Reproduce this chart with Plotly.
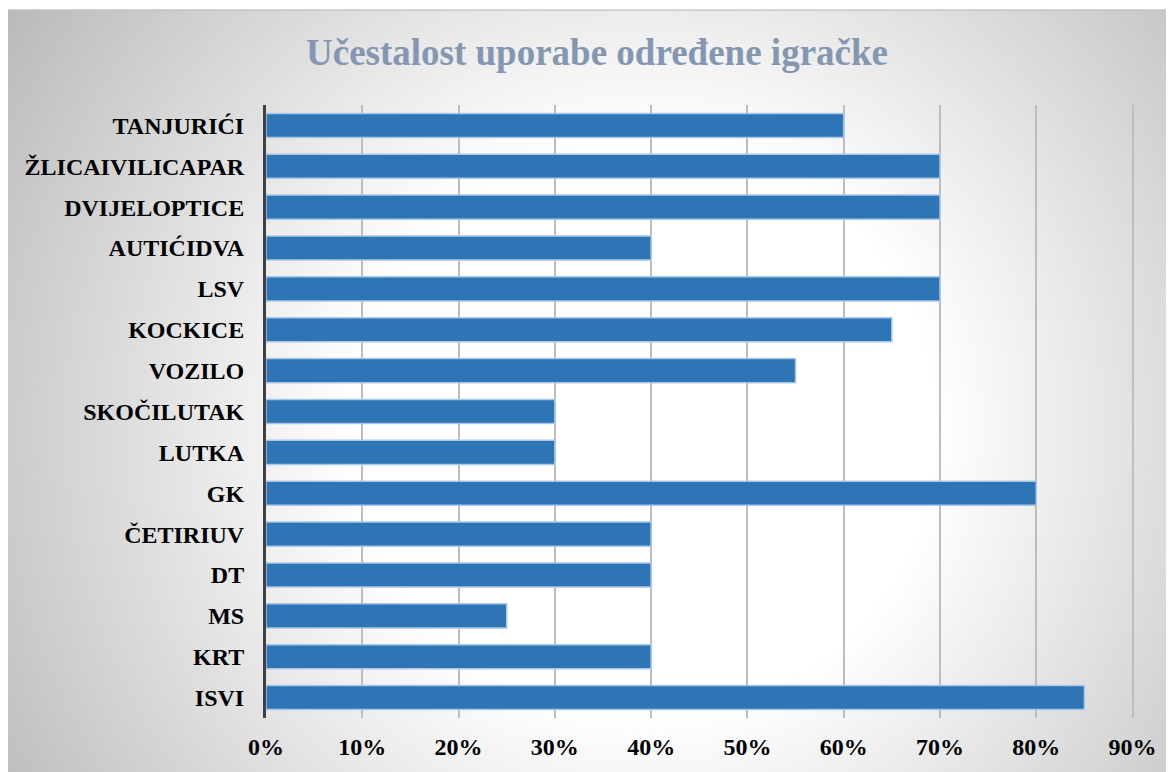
import plotly.graph_objects as go
import base64

categories = ["TANJURIĆI", "ŽLICAIVILICAPAR", "DVIJELOPTICE", "AUTIĆIDVA", "LSV",
              "KOCKICE", "VOZILO", "SKOČILUTAK", "LUTKA", "GK", "ČETIRIUV", "DT",
              "MS", "KRT", "ISVI"]
values = [0.60, 0.70, 0.70, 0.40, 0.70, 0.65, 0.55, 0.30, 0.30, 0.80, 0.40, 0.40,
          0.25, 0.40, 0.85]
x_ticks = [0, 0.1, 0.2, 0.3, 0.4, 0.5, 0.6, 0.7, 0.8, 0.9]
x_labels = ["0%", "10%", "20%", "30%", "40%", "50%", "60%", "70%", "80%", "90%"]

# the page body has an 8px margin, so the figure is offset by (8, 8)
W, H = 1166, 764
L, R, T, B = 258, 40, 97, 52
pw, ph = W - L - R, H - T - B

svg = """<svg xmlns='http://www.w3.org/2000/svg' width='1180' height='775' viewBox='0 0 1180 775' preserveAspectRatio='none'>
<defs><radialGradient id='g' gradientUnits='userSpaceOnUse' cx='640' cy='420' r='760'>
<stop offset='0' stop-color='#ffffff'/><stop offset='0.38' stop-color='#ffffff'/>
<stop offset='1' stop-color='#bababa'/></radialGradient></defs>
<rect x='0' y='0' width='1180' height='775' fill='url(#g)'/>
<rect x='0.75' y='0.75' width='1190' height='790' fill='none' stroke='#c4c4c4' stroke-width='1.5'/>
</svg>"""
uri = "data:image/svg+xml;base64," + base64.b64encode(svg.encode()).decode()

fig = go.Figure(go.Bar(
    x=values[::-1], y=categories[::-1], orientation="h",
    marker=dict(color="#2e75b6", line=dict(color="#a9c8e8", width=1.5)),
    hoverinfo="x+y",
))

fig.update_layout(
    width=W, height=H,
    margin=dict(l=L, r=R, t=T, b=B),
    paper_bgcolor="white", plot_bgcolor="rgba(0,0,0,0)",
    bargap=0.41,
    showlegend=False,
    title=dict(text="<b>Učestalost uporabe određene igračke</b>",
               font=dict(family="Liberation Serif", size=37, color="#8497b0"),
               x=(597 - 8) / W, xref="container", xanchor="center",
               y=1 - 44 / H, yref="container", yanchor="middle"),
    images=[dict(source=uri, xref="paper", yref="paper",
                 x=(-2 - L) / pw, y=(H - B - 1) / ph,
                 sizex=1180 / pw, sizey=775 / ph,
                 xanchor="left", yanchor="top", sizing="stretch", layer="below")],
    xaxis=dict(range=[0, 0.9015], tickvals=x_ticks, ticktext=x_labels,
               showgrid=True, gridcolor="#bdbdbd", gridwidth=2,
               zeroline=False, showline=False, ticks="",
               tickfont=dict(family="Liberation Serif", size=24, color="black", weight="bold"),
               ticklabelstandoff=12, fixedrange=True),
    yaxis=dict(range=[-0.5, 14.5], showgrid=False, zeroline=False,
               showline=True, linecolor="#404040", linewidth=3, ticks="",
               tickfont=dict(family="Liberation Serif", size=24, color="black", weight="bold"),
               ticklabelstandoff=14, fixedrange=True),
)

fig.write_html("out.html")
